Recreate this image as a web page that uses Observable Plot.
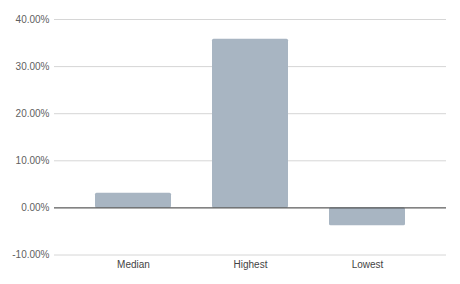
<!DOCTYPE html>
<html>
<head>
<meta charset="utf-8">
<script src="https://cdn.jsdelivr.net/npm/d3@7"></script>
<script src="https://cdn.jsdelivr.net/npm/@observablehq/plot@0.6"></script>
<style>
  html, body { margin: 0; padding: 0; background: #fff; }
</style>
</head>
<body>
<div id="chart"></div>
<script>
const categories = ["Median", "Highest", "Lowest"];
const values = [0.031, 0.358, -0.038];
const yTicks = [-0.1, 0, 0.1, 0.2, 0.3, 0.4];

const data = categories.map((c, i) => ({category: c, value: values[i]}));

const chart = Plot.plot({
  width: 460,
  height: 284,
  marginLeft: 54,
  marginRight: 14,
  marginTop: 19,
  marginBottom: 29.5,
  style: {fontFamily: "'Liberation Sans', Arial, sans-serif", fontSize: "10px", background: "#fff"},
  x: {domain: categories, padding: 0.35, label: null, tickSize: 0},
  y: {domain: [-0.1, 0.4], ticks: yTicks, label: null, tickSize: 0},
  marks: [
    Plot.ruleY(yTicks.filter(t => t !== 0), {stroke: "#d6d6d6", strokeWidth: 1}),
    Plot.barY(data, {x: "category", y: "value", fill: "#a8b5c2", rx: 1.5}),
    Plot.ruleY([0], {stroke: "#333333", strokeWidth: 1}),
    Plot.axisY({ticks: yTicks, tickSize: 0, tickPadding: 5, tickFormat: d => (d * 100).toFixed(2) + "%", fill: "#5f5f5f", label: null}),
    Plot.axisX({tickSize: 0, tickPadding: 6, fill: "#444", label: null})
  ]
});
document.getElementById("chart").appendChild(chart);
</script>
</body>
</html>
